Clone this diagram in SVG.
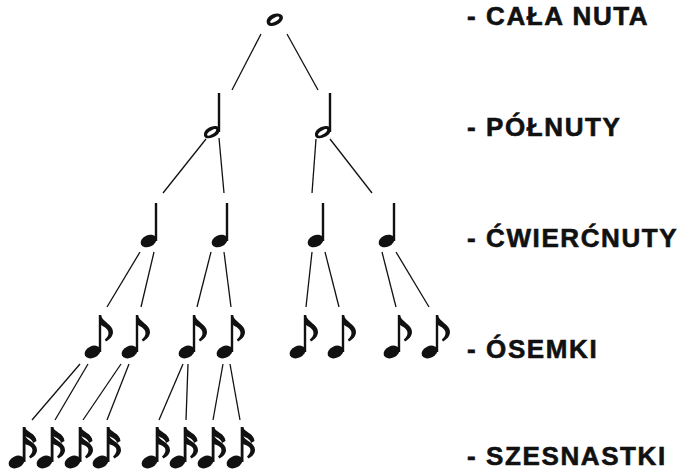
<svg xmlns="http://www.w3.org/2000/svg" width="684" height="471" viewBox="0 0 684 471">
<style>
.lbl{font-family:"Liberation Sans",Arial,sans-serif;font-weight:bold;font-size:26px;letter-spacing:1.6px;fill:#111;stroke:#111;stroke-width:0.6px}
.ln{stroke:#111;stroke-width:1.3;fill:none}
.ink{fill:#111}
</style>
<defs>
<g id="half">
<path class="ink" fill-rule="evenodd" d="M-15,3.5 C-16,-2.5 -8,-6.5 -3,-6 C2,-5.5 1.5,0.5 -2,3 C-5.5,6 -14,8.5 -15,3.5 Z M-11.8,3.3 C-10.8,4.6 -6.2,2.2 -4,0.2 C-2.2,-1.8 -2.4,-3.4 -4.2,-3 C-7.2,-2.4 -12.8,1.3 -11.8,3.3 Z"/>
<rect class="ink" x="-1.2" y="-39" width="2.4" height="39"/>
</g>
<g id="quarter">
<ellipse class="ink" cx="-7.5" cy="0" rx="8.3" ry="5.8" transform="rotate(-25 -7.5 0)"/>
<rect class="ink" x="-1.2" y="-38" width="2.4" height="38"/>
</g>
<g id="eighth">
<ellipse class="ink" cx="-7.5" cy="0" rx="8.3" ry="5.9" transform="rotate(-25 -7.5 0)"/>
<rect class="ink" x="-1.2" y="-37" width="2.4" height="37"/>
<path class="ink" d="M1,-37 C2,-30 13,-28 13,-20 C13,-15.5 9.5,-12.5 6,-10.5 L4.8,-12.5 C7,-14.5 9,-17 8.4,-20 C7.6,-24 3,-25.5 1,-27 Z"/>
</g>
<g id="sixteenth">
<ellipse class="ink" cx="-7.5" cy="0" rx="8.3" ry="5.9" transform="rotate(-25 -7.5 0)"/>
<rect class="ink" x="-1.3" y="-35" width="2.8" height="35"/>
<path class="ink" d="M1,-35 C2,-30 12,-29 12.5,-21 L9,-19 C8.5,-23 3.5,-24.5 1,-26 Z"/>
<path class="ink" d="M1,-27 C2,-21 13,-20 13,-12 C13,-8 9.5,-5 6.5,-3.5 L5,-5.5 C7,-7.5 8.8,-9.8 8.4,-12.5 C7.8,-16 3,-17 1,-18 Z"/>
</g>
</defs>

<g id="connectors">
<line class="ln" x1="261" y1="34" x2="232" y2="90"/>
<line class="ln" x1="287" y1="34" x2="318" y2="90"/>
<line class="ln" x1="206" y1="139" x2="163" y2="193"/>
<line class="ln" x1="219" y1="138" x2="224" y2="193"/>
<line class="ln" x1="316" y1="139" x2="312" y2="193"/>
<line class="ln" x1="330" y1="139" x2="372" y2="193"/>
<line class="ln" x1="140" y1="252" x2="107" y2="307"/>
<line class="ln" x1="154" y1="252" x2="141" y2="307"/>
<line class="ln" x1="211" y1="252" x2="197" y2="307"/>
<line class="ln" x1="224" y1="252" x2="231" y2="307"/>
<line class="ln" x1="312" y1="252" x2="306" y2="307"/>
<line class="ln" x1="325" y1="252" x2="339" y2="307"/>
<line class="ln" x1="382" y1="252" x2="396" y2="307"/>
<line class="ln" x1="396" y1="252" x2="429" y2="307"/>
<line class="ln" x1="80" y1="364" x2="32" y2="420"/>
<line class="ln" x1="88" y1="364" x2="55" y2="420"/>
<line class="ln" x1="121" y1="364" x2="83" y2="420"/>
<line class="ln" x1="129" y1="364" x2="107" y2="420"/>
<line class="ln" x1="183" y1="364" x2="159" y2="420"/>
<line class="ln" x1="188" y1="364" x2="186" y2="420"/>
<line class="ln" x1="223" y1="364" x2="213" y2="420"/>
<line class="ln" x1="230" y1="364" x2="240" y2="420"/>
</g>

<g id="whole-note">
<path class="ink" fill-rule="evenodd" d="M267,23.5 C265,18 272,13 278,13.5 C284,14 284.5,19 280,22.8 C276.5,26 269,28 267,23.5 Z M270.3,22.6 C271.5,24 276.3,21.6 278.4,19.6 C280,17.8 279.5,16.1 277.6,16.5 C274.5,17.1 269.2,20.8 270.3,22.6 Z"/>
</g>
<g id="half-1"><use href="#half" x="219" y="132"/></g>
<g id="half-2"><use href="#half" x="330" y="132"/></g>
<g id="quarter-1"><use href="#quarter" x="156" y="241"/></g>
<g id="quarter-2"><use href="#quarter" x="227" y="241"/></g>
<g id="quarter-3"><use href="#quarter" x="323" y="241"/></g>
<g id="quarter-4"><use href="#quarter" x="394" y="241"/></g>
<g id="eighth-1"><use href="#eighth" x="100" y="352"/></g>
<g id="eighth-2"><use href="#eighth" x="137" y="352"/></g>
<g id="eighth-3"><use href="#eighth" x="194" y="352"/></g>
<g id="eighth-4"><use href="#eighth" x="232" y="352"/></g>
<g id="eighth-5"><use href="#eighth" x="305" y="352"/></g>
<g id="eighth-6"><use href="#eighth" x="343" y="352"/></g>
<g id="eighth-7"><use href="#eighth" x="399" y="352"/></g>
<g id="eighth-8"><use href="#eighth" x="437" y="352"/></g>
<g id="sixteenth-1"><use href="#sixteenth" x="24" y="462"/></g>
<g id="sixteenth-2"><use href="#sixteenth" x="52" y="462"/></g>
<g id="sixteenth-3"><use href="#sixteenth" x="80" y="462"/></g>
<g id="sixteenth-4"><use href="#sixteenth" x="108" y="462"/></g>
<g id="sixteenth-5"><use href="#sixteenth" x="157" y="462"/></g>
<g id="sixteenth-6"><use href="#sixteenth" x="185" y="462"/></g>
<g id="sixteenth-7"><use href="#sixteenth" x="213" y="462"/></g>
<g id="sixteenth-8"><use href="#sixteenth" x="242" y="462"/></g>

<g id="labels">
<text class="lbl" x="467" y="25">- CAŁA NUTA</text>
<text class="lbl" x="467" y="136">- PÓŁNUTY</text>
<text class="lbl" x="467" y="247">- ĆWIERĆNUTY</text>
<text class="lbl" x="467" y="358">- ÓSEMKI</text>
<text class="lbl" x="467" y="465">- SZESNASTKI</text>
</g>
</svg>
